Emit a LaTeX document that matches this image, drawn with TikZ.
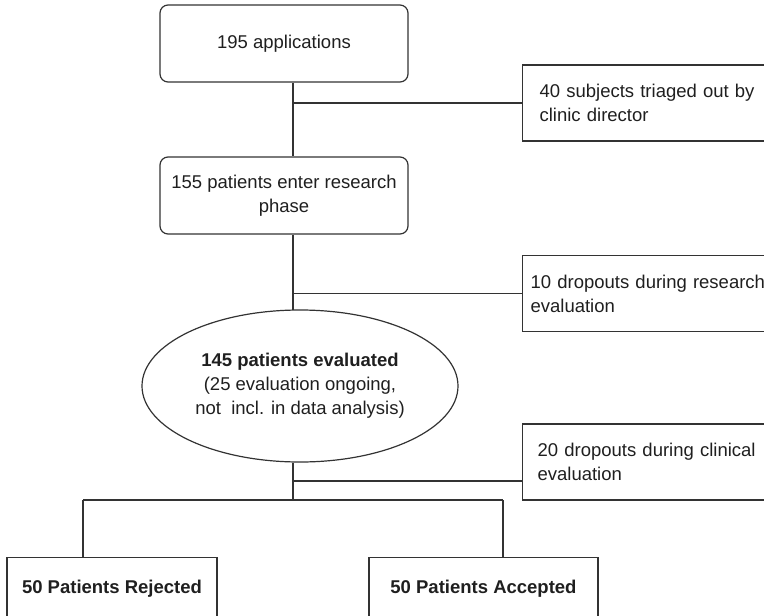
\documentclass[tikz,border=0pt]{standalone}
\usepackage{fontspec}
\setmainfont{Liberation Sans}
\usetikzlibrary{shapes.geometric}
\newcommand\diagfont{\fontsize{18.5}{24}\selectfont}
\begin{document}
\begin{tikzpicture}[x=1pt,y=1pt,
  every node/.style={font=\diagfont, text=black!88},
  conn/.style={draw=black!80, line width=1.2pt},
  rbox/.style={draw=black!80, line width=1.2pt, rounded corners=8pt,
    minimum width=248, minimum height=77, align=center, inner sep=0},
  sidebox/.style={draw=black!80, line width=1.2pt, anchor=west,
    minimum height=76, align=left, inner ysep=0},
  outbox/.style={draw=black!80, line width=1.2pt, anchor=north,
    minimum width=#1, inner ysep=0, text height=36pt, text depth=40pt,
    font=\diagfont\bfseries},
  oval/.style={draw=black!80, line width=1.2pt, ellipse,
    minimum width=316, minimum height=152, inner sep=0, align=center}
]
\useasboundingbox (0,0) rectangle (764,-616);
\clip (0,0) rectangle (764,-616);

% main column
\node[rbox] (b1) at (284,-43.5) {195 applications};
\node[rbox] (b2) at (284,-195.5) {155 patients enter research\\phase};
\node[oval] (ev) at (300,-386) {\textbf{145 patients evaluated}\\(25 evaluation ongoing,\\not\ \ incl. in data analysis)};

% side boxes
\node[sidebox, inner xsep=17pt, text width=246pt] (s1) at (522,-103)
  {40 subjects triaged out by\\clinic director};
\node[sidebox, inner xsep=8pt, text width=264pt] (s2) at (522,-293.5)
  {10 dropouts during research\\evaluation};
\node[sidebox, inner xsep=15pt, text width=250pt] (s3) at (522,-462)
  {20 dropouts during clinical\\evaluation};

% outcome boxes
\node[outbox=210] (rej) at (112,-557) {50 Patients Rejected};
\node[outbox=229] (acc) at (483.5,-557) {50 Patients Accepted};

% trunk coordinates
\coordinate (trunk) at (293,0);
\coordinate (j1) at (293,-103);
\coordinate (j2) at (293,-293.5);
\coordinate (j3) at (293,-481);
\coordinate (split) at (293,-500);
\coordinate (lft) at (83,-500);
\coordinate (rgt) at (503,-500);

% connectors
\draw[conn] (b1.south -| trunk) -- (b2.north -| trunk);
\draw[conn] (j1) -- (s1.west |- j1);
\draw[conn] (b2.south -| trunk) -- (293,-310.2);
\draw[conn] (j2) -- (s2.west |- j2);
\draw[conn] (ev.south -| trunk) -- (split);
\draw[conn] (j3) -- (s3.west |- j3);
\draw[conn] (lft) -- (rgt);
\draw[conn] (lft) -- (lft |- rej.north);
\draw[conn] (rgt) -- (rgt |- acc.north);
\end{tikzpicture}
\end{document}
